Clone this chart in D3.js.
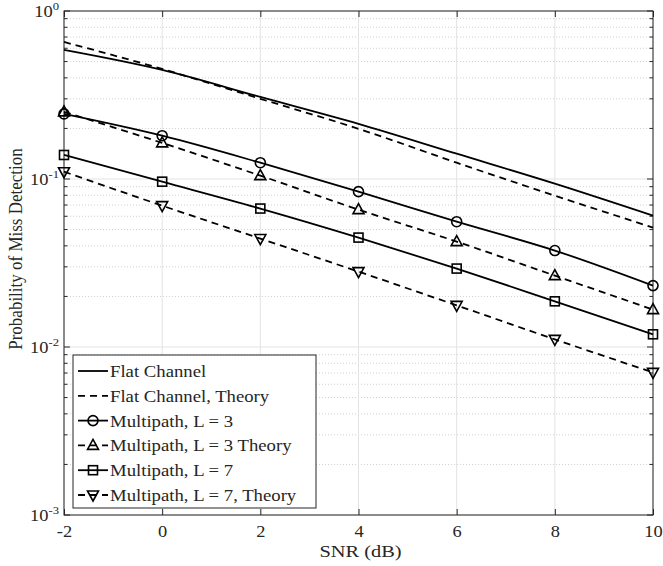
<!DOCTYPE html>
<html>
<head>
<meta charset="utf-8">
<script src="https://cdn.jsdelivr.net/npm/d3@7"></script>
<style>
  body { margin: 0; background: #fff; }
  svg text { font-family: "Liberation Serif", "Times New Roman", serif; fill: #262626; }
</style>
</head>
<body>
<svg width="663" height="566"></svg>
<script>
// data
const snr = [-2, 0, 2, 4, 6, 8, 10];
const flat = [0.587, 0.446, 0.308, 0.213, 0.1414, 0.0938, 0.0605];
const flatTheory = [0.654, 0.452, 0.300, 0.199, 0.125, 0.0796, 0.0514];
const mp3 = [0.244, 0.181, 0.125, 0.0841, 0.0557, 0.0375, 0.0232];
const mp3Theory = [0.251, 0.164, 0.1047, 0.0657, 0.0424, 0.0266, 0.0167];
const mp7 = [0.139, 0.0964, 0.0667, 0.0448, 0.0293, 0.0187, 0.0119];
const mp7Theory = [0.1105, 0.0694, 0.0442, 0.0281, 0.0177, 0.0111, 0.00706];

const xTicks = [-2, 0, 2, 4, 6, 8, 10];
const yDecades = [-3, -2, -1, 0];

const series = [
  {name: "Flat Channel", values: flat, dash: null, marker: null},
  {name: "Flat Channel, Theory", values: flatTheory, dash: "7,5", marker: null},
  {name: "Multipath, L = 3", values: mp3, dash: null, marker: "circle"},
  {name: "Multipath, L = 3 Theory", values: mp3Theory, dash: "7,5", marker: "up"},
  {name: "Multipath, L = 7", values: mp7, dash: null, marker: "square"},
  {name: "Multipath, L = 7, Theory", values: mp7Theory, dash: "7,5", marker: "down"}
];

const svg = d3.select("svg");
const pL = 64, pR = 653, pT = 11, pB = 515;
const sx = 1.15; // the figure's text is a little wider than tall
const fs = 16;

const x = d3.scaleLinear().domain([-2, 10]).range([pL, pR]);
const y = d3.scaleLog().domain([1e-3, 1]).range([pB, pT]);

// grid
const minor = [];
yDecades.slice(0, 3).forEach(e => {
  for (let k = 2; k <= 9; k++) minor.push(k * Math.pow(10, e));
});
const grid = svg.append("g");
grid.selectAll(".ymin").data(minor).join("line")
  .attr("x1", pL).attr("x2", pR)
  .attr("y1", d => y(d)).attr("y2", d => y(d))
  .attr("stroke", "#d0d0d0").attr("stroke-width", 1).attr("stroke-dasharray", "1,2");
grid.selectAll(".ymaj").data(yDecades).join("line")
  .attr("x1", pL).attr("x2", pR)
  .attr("y1", d => y(Math.pow(10, d))).attr("y2", d => y(Math.pow(10, d)))
  .attr("stroke", "#e3e3e3").attr("stroke-width", 1);
grid.selectAll(".xmaj").data(xTicks).join("line")
  .attr("x1", d => x(d)).attr("x2", d => x(d))
  .attr("y1", pT).attr("y2", pB)
  .attr("stroke", "#e3e3e3").attr("stroke-width", 1);

// axes (ticks pointing inward, box on)
const tk = 6;
const axisColor = "#262626";
svg.append("g").attr("transform", `translate(0,${pB})`)
  .call(d3.axisBottom(x).tickValues(xTicks).tickSize(-tk).tickPadding(11).tickFormat(d => String(d)))
  .call(g => g.select(".domain").remove())
  .call(g => g.selectAll("line").attr("stroke", axisColor))
  .call(g => g.selectAll("text").attr("font-size", fs).attr("fill", axisColor)
    .attr("transform", `scale(${sx},1)`));
svg.append("g").attr("transform", `translate(0,${pT})`)
  .call(d3.axisTop(x).tickValues(xTicks).tickSize(-tk).tickFormat(""))
  .call(g => g.select(".domain").remove())
  .call(g => g.selectAll("line").attr("stroke", axisColor));

[pL, pR].forEach((px, i) => {
  const dir = i === 0 ? 1 : -1;
  const g = svg.append("g");
  g.selectAll(".maj").data(yDecades).join("line")
    .attr("x1", px).attr("x2", px + dir * tk)
    .attr("y1", d => y(Math.pow(10, d))).attr("y2", d => y(Math.pow(10, d)))
    .attr("stroke", axisColor);
  g.selectAll(".min").data(minor).join("line")
    .attr("x1", px).attr("x2", px + dir * 3.5)
    .attr("y1", d => y(d)).attr("y2", d => y(d))
    .attr("stroke", axisColor);
});

svg.append("rect").attr("x", pL).attr("y", pT)
  .attr("width", pR - pL).attr("height", pB - pT)
  .attr("fill", "none").attr("stroke", axisColor).attr("stroke-width", 1);

// y tick labels 10^e
const yl = svg.append("g").selectAll("text").data(yDecades).join("text")
  .attr("transform", d => `translate(${pL - 5},${y(Math.pow(10, d)) + 6}) scale(${sx},1)`)
  .attr("text-anchor", "end").attr("font-size", fs);
yl.append("tspan").text("10");
yl.append("tspan").attr("dy", -7).attr("font-size", 11).text(d => d);

// axis titles
svg.append("text").attr("transform", `translate(${(pL + pR) / 2 + 2},557) scale(1.2,1)`)
  .attr("text-anchor", "middle").attr("font-size", 17).text("SNR (dB)");
svg.append("text").attr("transform", `translate(22,249) scale(1.1,1) rotate(-90)`)
  .attr("text-anchor", "middle").attr("font-size", 17).text("Probability of Miss Detection");

// markers
function drawMarker(sel, type) {
  if (type === "circle") {
    sel.append("circle").attr("r", 5);
  } else if (type === "square") {
    sel.append("rect").attr("x", -4.5).attr("y", -4.5).attr("width", 9).attr("height", 9);
  } else if (type === "up") {
    sel.append("path").attr("d", "M0,-6L5.5,4L-5.5,4Z");
  } else if (type === "down") {
    sel.append("path").attr("d", "M0,6L5.5,-4L-5.5,-4Z");
  }
  sel.selectAll("*").attr("fill", "none").attr("stroke", "#000").attr("stroke-width", 1.6);
}

const line = d3.line().x((d, i) => x(snr[i])).y(d => y(d)).curve(d3.curveMonotoneX);

series.forEach(s => {
  svg.append("path").datum(s.values)
    .attr("d", line)
    .attr("fill", "none").attr("stroke", "#000").attr("stroke-width", 1.8)
    .attr("stroke-dasharray", s.dash);
  if (s.marker) {
    svg.append("g").selectAll("g").data(s.values).join("g")
      .attr("transform", (d, i) => `translate(${x(snr[i])},${y(d)})`)
      .each(function () { drawMarker(d3.select(this), s.marker); });
  }
});

// legend
const lgX = 73, lgY = 355, lgW = 243, lgH = 153, rowH = 24.8;
svg.append("rect").attr("x", lgX).attr("y", lgY).attr("width", lgW).attr("height", lgH)
  .attr("fill", "#fff").attr("stroke", axisColor).attr("stroke-width", 1);
const rows = svg.append("g").selectAll("g").data(series).join("g")
  .attr("transform", (d, i) => `translate(${lgX},${lgY + 16 + i * rowH})`);
rows.append("line").attr("x1", 5).attr("x2", 35).attr("y1", 0).attr("y2", 0)
  .attr("stroke", "#000").attr("stroke-width", 1.8)
  .attr("stroke-dasharray", d => d.dash ? "7,5" : null);
rows.each(function (d) {
  if (d.marker) {
    const g = d3.select(this).append("g").attr("transform", "translate(20,0)");
    drawMarker(g, d.marker);
  }
});
rows.append("text").attr("transform", `translate(37,6) scale(1.17,1)`)
  .attr("font-size", fs).text(d => d.name);
</script>
</body>
</html>
